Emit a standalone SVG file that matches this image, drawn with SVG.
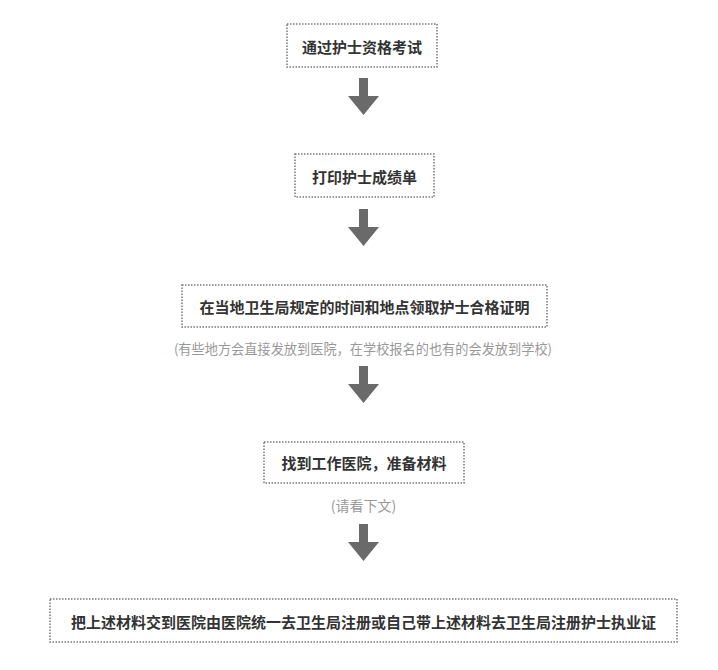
<svg xmlns="http://www.w3.org/2000/svg" width="718" height="670" viewBox="0 0 718 670">
<defs>
<style>
.box{fill:#fff;stroke:#777;stroke-width:1.5;stroke-dasharray:1.5 1.5}
.t{font-family:"Noto Sans CJK SC","Noto Sans",sans-serif;font-size:15px;font-weight:bold;fill:#333;text-anchor:middle;dominant-baseline:central}
.n{font-family:"Noto Sans CJK SC","Noto Sans",sans-serif;font-size:14px;fill:#999;text-anchor:middle;dominant-baseline:central}
.arr{fill:#6a6a6a}
</style>
<path id="arrow" d="M-4.5,0 H4.5 V18 H15.5 L0,37 L-15.5,18 H-4.5 Z"/>
</defs>
<rect width="718" height="670" fill="#fff"/>
<g id="n1"><rect class="box" x="287" y="24" width="150" height="43"/><text class="t" x="362" y="46">通过护士资格考试</text></g>
<g id="n2"><rect class="box" x="295" y="154" width="139" height="43"/><text class="t" x="364.5" y="176">打印护士成绩单</text></g>
<g id="n3"><rect class="box" x="182" y="285" width="365" height="42"/><text class="t" x="364.5" y="306">在当地卫生局规定的时间和地点领取护士合格证明</text><text class="n" x="363" y="348" style="font-size:13.2px">(有些地方会直接发放到医院，在学校报名的也有的会发放到学校)</text></g>
<g id="n4"><rect class="box" x="264" y="442" width="200" height="41"/><text class="t" x="364" y="462">找到工作医院，准备材料</text><text class="n" x="363.5" y="505">(请看下文)</text></g>
<g id="n5"><rect class="box" x="50" y="599" width="627" height="43"/><text class="t" x="363.5" y="621">把上述材料交到医院由医院统一去卫生局注册或自己带上述材料去卫生局注册护士执业证</text></g>
<g id="connectors" class="arr">
<use href="#arrow" x="363.5" y="78"/>
<use href="#arrow" x="363.5" y="209"/>
<use href="#arrow" x="363.5" y="366"/>
<use href="#arrow" x="363.5" y="524"/>
</g>
</svg>
